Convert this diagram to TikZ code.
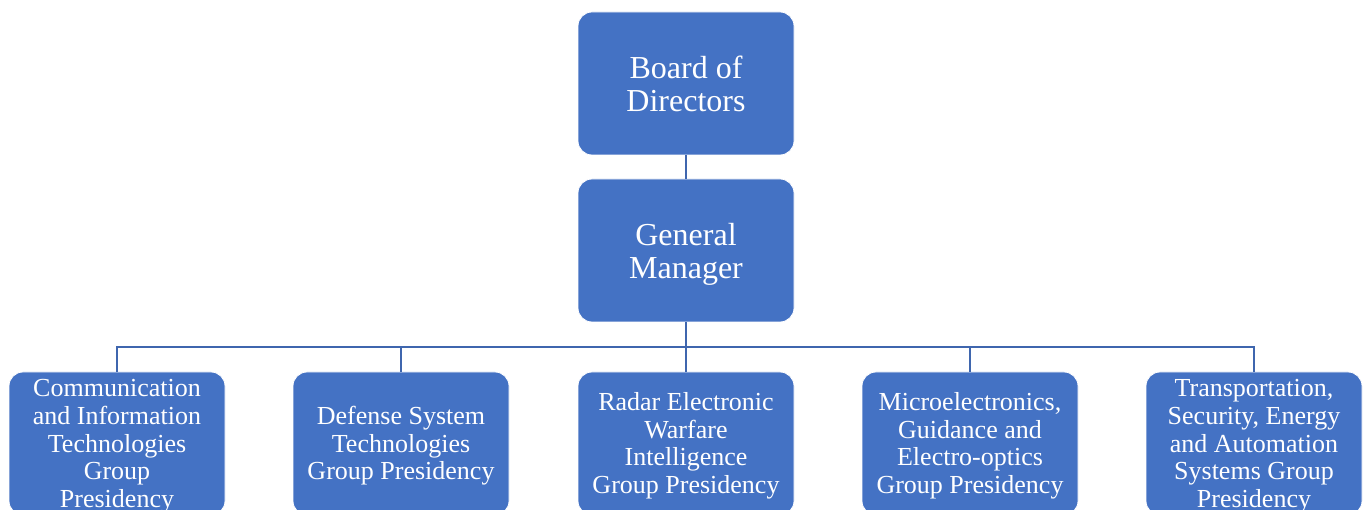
\documentclass[tikz,border=0pt]{standalone}
\usepackage{fontspec}
\setmainfont{Liberation Serif}
\definecolor{boxblue}{HTML}{4472C4}
\definecolor{lineblue}{HTML}{3F66AE}
\newcommand{\boxshift}{0pt}
\newcommand{\boxlines}[1]{\raisebox{\boxshift}[\height][\depth]{\begin{tabular}{@{}c@{}}#1\end{tabular}}}
\begin{document}
\begin{tikzpicture}[x=1pt,y=-1pt,
  orgbox/.style={draw=white,line width=0.8pt,fill=boxblue,rounded corners=14pt,
    minimum width=216pt,minimum height=143pt,inner sep=0pt,text=white},
  topbox/.style={orgbox,font=\fontsize{32}{33}\selectfont\renewcommand{\boxshift}{-4.5pt}},
  lowbox/.style={orgbox,font=\fontsize{26}{27.7}\selectfont\renewcommand{\boxshift}{-3pt}},
  conn/.style={draw=lineblue,line width=2.8pt}]
\useasboundingbox (0,0) rectangle (1369,510);
\begin{scope}
\clip (0,0) rectangle (1369,510);
\node[topbox] (board) at (686,83.5) {\boxlines{Board of\\Directors}};
\node[topbox] (gm) at (686,250.5) {\boxlines{General\\Manager}};
\node[lowbox] (b1) at (117,443.5) {\boxlines{Communication\\and Information\\Technologies\\Group\\Presidency}};
\node[lowbox] (b2) at (401,443.5) {\boxlines{Defense System\\Technologies\\Group Presidency}};
\node[lowbox] (b3) at (686,443.5) {\boxlines{Radar Electronic\\Warfare\\Intelligence\\Group Presidency}};
\node[lowbox] (b4) at (970,443.5) {\boxlines{Microelectronics,\\Guidance and\\Electro-optics\\Group Presidency}};
\node[lowbox] (b5) at (1254,443.5) {\boxlines{Transportation,\\Security, Energy\\and Automation\\Systems Group\\Presidency}};
\coordinate (bus) at (686,347);
\draw[conn] (board.south) -- (gm.north);
\draw[conn] (gm.south) -- (bus);
\foreach \b in {b1,b2,b3,b4,b5}{
  \draw[conn] (bus) -| (\b.north);
}
\end{scope}
\end{tikzpicture}
\end{document}
